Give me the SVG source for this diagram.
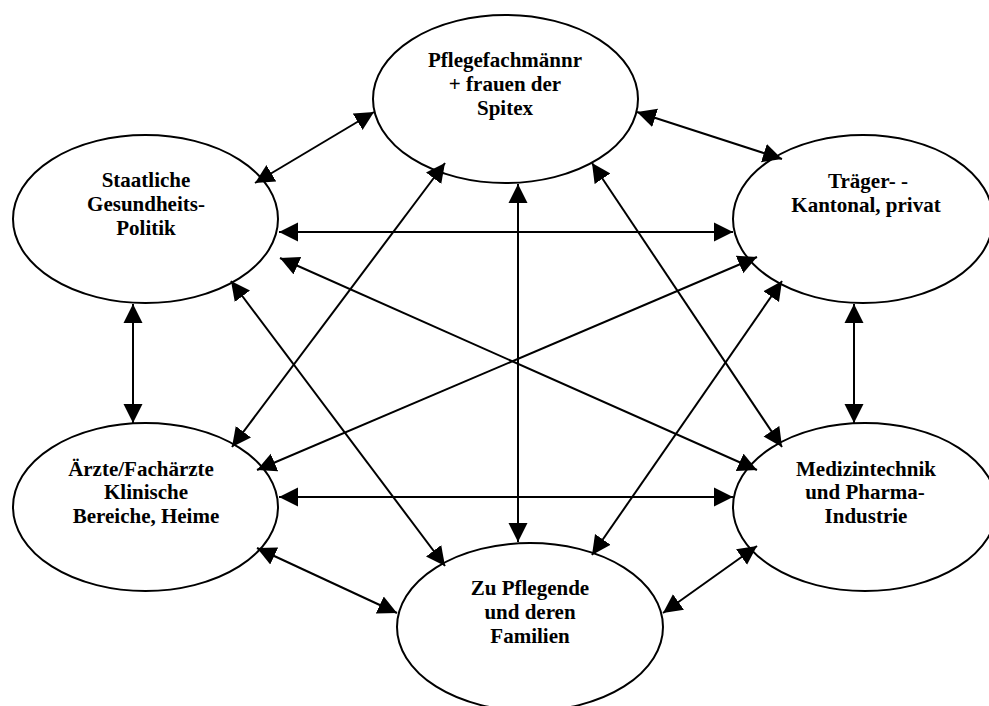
<svg xmlns="http://www.w3.org/2000/svg" width="989" height="706" viewBox="0 0 989 706">
<defs>
<marker id="ah" markerUnits="userSpaceOnUse" markerWidth="20" markerHeight="20" viewBox="0 0 20 20" refX="19" refY="10" orient="auto-start-reverse">
<path d="M0,0.5 L19,10 L0,19.5 z" fill="#000"/>
</marker>
<style>
.node ellipse{fill:#fff;stroke:#000;stroke-width:2}
.node text{font-family:"Liberation Serif","Times New Roman",serif;font-weight:bold;font-size:21px;text-anchor:middle;fill:#000}
#connectors line{stroke:#000;stroke-width:2;marker-start:url(#ah);marker-end:url(#ah)}
</style>
</defs>
<rect width="989" height="706" fill="#fff"/>
<g id="spitex" class="node">
<ellipse cx="505.5" cy="99" rx="132.5" ry="84"/>
<text x="505" y="67">Pflegefachmännr</text>
<text x="505" y="91">+ frauen der</text>
<text x="505" y="115">Spitex</text>
</g>
<g id="staat" class="node">
<ellipse cx="145.5" cy="219" rx="132.5" ry="84"/>
<text x="146" y="187">Staatliche</text>
<text x="146" y="211">Gesundheits-</text>
<text x="146" y="235">Politik</text>
</g>
<g id="traeger" class="node">
<ellipse cx="863" cy="219" rx="130" ry="84"/>
<text x="868" y="188">Träger- -</text>
<text x="866" y="212">Kantonal, privat</text>
</g>
<g id="aerzte" class="node">
<ellipse cx="145.5" cy="507" rx="132.5" ry="84"/>
<text x="141" y="476">Ärzte/Fachärzte</text>
<text x="146" y="499">Klinische</text>
<text x="146" y="523">Bereiche, Heime</text>
</g>
<g id="medizin" class="node">
<ellipse cx="865" cy="507" rx="132" ry="84"/>
<text x="866" y="476">Medizintechnik</text>
<text x="865" y="499">und Pharma-</text>
<text x="866" y="523">Industrie</text>
</g>
<g id="pflegende" class="node">
<ellipse cx="530" cy="627" rx="133" ry="84"/>
<text x="530" y="595">Zu Pflegende</text>
<text x="530" y="619">und deren</text>
<text x="530" y="643">Familien</text>
</g>
<g id="connectors">
<line x1="374" y1="112" x2="255" y2="183"/>
<line x1="637" y1="112" x2="782" y2="159"/>
<line x1="279" y1="232" x2="733" y2="232"/>
<line x1="133" y1="304" x2="133" y2="423"/>
<line x1="854" y1="304" x2="854" y2="423"/>
<line x1="279" y1="497" x2="733" y2="497"/>
<line x1="445" y1="163" x2="232" y2="447"/>
<line x1="592" y1="163" x2="782" y2="447"/>
<line x1="231" y1="281" x2="445" y2="566"/>
<line x1="782" y1="281" x2="592" y2="555"/>
<line x1="280" y1="258" x2="757" y2="470"/>
<line x1="757" y1="257" x2="257" y2="470"/>
<line x1="257" y1="548" x2="397" y2="613"/>
<line x1="757" y1="546" x2="663" y2="613"/>
<line x1="518" y1="184" x2="518" y2="542"/>
</g>
</svg>
